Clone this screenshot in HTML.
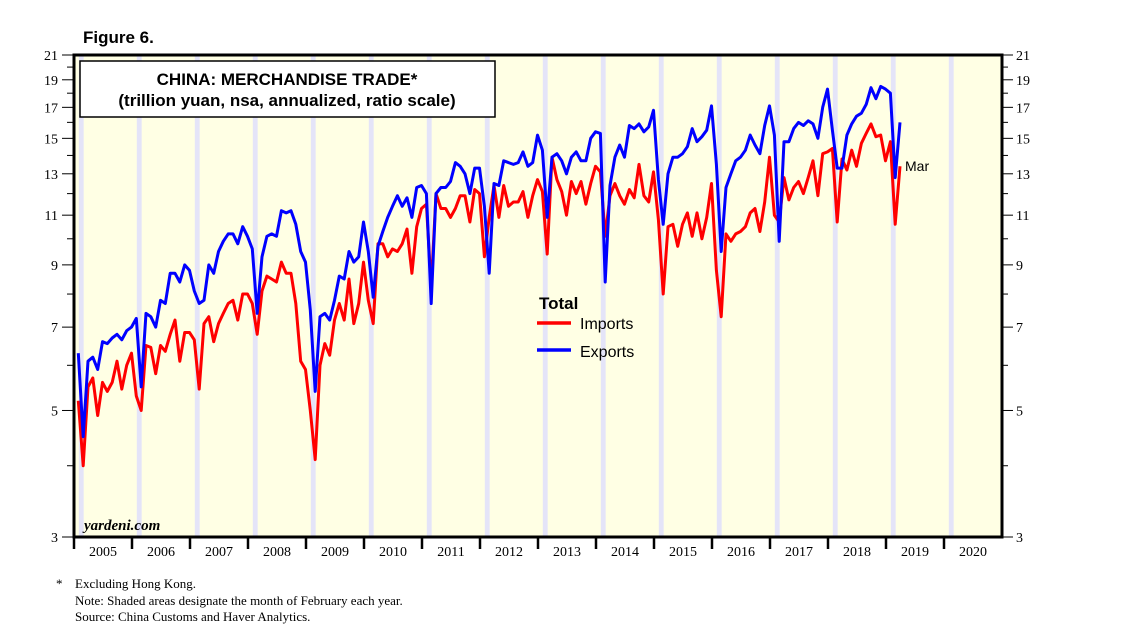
<!DOCTYPE html>
<html><head><meta charset="utf-8"><style>
html,body{margin:0;padding:0;background:#fff;}
svg{display:block;}
</style></head><body>
<svg id="chart" width="1138" height="642" xmlns="http://www.w3.org/2000/svg">
<text x="83" y="43" font-family="Liberation Sans, sans-serif" font-weight="bold" font-size="17">Figure 6.</text>
<g id="plot"></g>
<g id="foot" font-family="Liberation Serif, serif" font-size="13" fill="#000">
<text x="56" y="588">*</text>
<text x="75" y="588">Excluding Hong Kong.</text>
<text x="75" y="605">Note: Shaded areas designate the month of February each year.</text>
<text x="75" y="621">Source: China Customs and Haver Analytics.</text>
</g>
</svg>
<script>
const startYear = 2005;
const yearLabels = ["2005","2006","2007","2008","2009","2010","2011","2012","2013","2014","2015","2016","2017","2018","2019","2020"];
const yTickLabels = [3,5,7,9,11,13,15,17,19,21];
const yMinorTicks = [4,6,8,10,12,14,16,18,20];
const exportsData = [
6.3,4.5,6.1,6.2,5.9,6.6,6.55,6.7,6.8,6.65,6.9,7.0,
7.25,5.5,7.4,7.3,7.0,7.8,7.7,8.7,8.7,8.4,9.0,8.8,
8.1,7.7,7.8,9.0,8.7,9.5,9.9,10.2,10.2,9.8,10.5,10.1,
9.6,7.4,9.3,10.1,10.2,10.1,11.2,11.1,11.2,10.6,9.5,9.1,
7.5,5.4,7.3,7.4,7.2,7.8,8.6,8.5,9.5,9.1,9.3,10.7,
9.5,7.9,9.7,10.3,10.9,11.4,11.9,11.4,11.8,10.9,12.3,12.4,
12.0,7.7,12.0,12.3,12.3,12.6,13.6,13.4,13.0,12.0,13.3,13.3,
11.4,8.7,12.5,12.4,13.7,13.6,13.5,13.6,14.2,13.4,13.6,15.2,
14.3,10.9,13.9,14.1,13.7,13.0,13.9,14.2,13.7,13.7,15.0,15.4,
15.3,8.4,12.4,13.9,14.6,13.9,15.8,15.6,15.9,15.4,15.7,16.8,
12.7,10.6,13.0,13.9,13.9,14.1,14.5,15.6,14.8,15.1,15.5,17.1,
13.5,9.5,12.3,13.0,13.7,13.9,14.3,15.2,14.6,14.1,15.8,17.1,
15.2,9.9,14.8,14.8,15.6,16.0,15.8,16.1,15.9,15.0,17.0,18.3,
15.5,13.3,13.3,15.2,15.9,16.4,16.6,17.2,18.4,17.6,18.5,18.3,
18.0,12.8,16.0];
const importsData = [
5.2,4.0,5.5,5.7,4.9,5.6,5.4,5.6,6.1,5.45,6.0,6.3,
5.3,5.0,6.5,6.45,5.8,6.5,6.35,6.8,7.2,6.1,6.85,6.85,
6.65,5.45,7.1,7.3,6.6,7.1,7.4,7.7,7.8,7.2,8.0,8.0,
7.7,6.8,8.1,8.6,8.5,8.4,9.1,8.7,8.7,7.7,6.1,5.9,
5.0,4.1,6.0,6.55,6.25,7.2,7.7,7.2,8.5,7.1,7.7,9.1,
7.8,7.1,9.8,9.8,9.3,9.6,9.5,9.8,10.4,8.7,10.5,11.3,
11.5,8.2,12.0,11.3,11.3,10.9,11.3,11.9,11.9,10.7,12.2,12.0,
9.3,10.9,12.4,10.9,12.4,11.4,11.6,11.6,12.1,10.9,11.9,12.7,
12.1,9.4,13.9,12.7,12.1,11.0,12.6,12.0,12.6,11.5,12.5,13.4,
13.1,10.1,11.9,12.5,11.9,11.5,12.2,11.8,13.5,11.9,11.6,13.1,
10.8,8.0,10.5,10.6,9.7,10.6,11.1,10.1,11.1,10.0,10.9,12.5,
8.8,7.3,10.2,9.9,10.2,10.3,10.5,11.1,11.3,10.3,11.6,13.9,
11.0,10.7,12.8,11.7,12.3,12.6,12.0,12.8,13.7,11.9,14.1,14.2,
14.4,10.7,13.8,13.2,14.3,13.4,14.7,15.3,15.9,15.1,15.2,13.7,
14.8,10.6,13.4];

const NS="http://www.w3.org/2000/svg";
const L=74, R=1002, T=55, B=537, yMin=3, yMax=21;
const yearW=(R-L)/yearLabels.length, monthW=yearW/12;
function xMonth(i){return L+(i+0.9)*monthW;}
function yVal(v){return T+(Math.log(yMax/v)/Math.log(yMax/yMin))*(B-T);}
const g=document.getElementById('plot');
function el(tag,attrs,parent){const e=document.createElementNS(NS,tag);for(const k in attrs)e.setAttribute(k,attrs[k]);(parent||g).appendChild(e);return e;}

const bg=el('rect',{x:L,y:T,width:R-L,height:B-T,fill:'#FFFFE4'});


yearLabels.forEach((lab,i)=>{
  const b=el('rect',{x:L+i*yearW+monthW,y:T,width:monthW,height:B-T,fill:'#E4E4F8'});
  
  
});
const tb=el('rect',{x:80,y:61,width:415,height:56,fill:'#fff',stroke:'#000','stroke-width':1.5});


const t1=el('text',{x:287,y:85,'text-anchor':'middle','font-family':'Liberation Sans, sans-serif','font-weight':'bold','font-size':'17'});
t1.textContent='CHINA: MERCHANDISE TRADE*';


const t2=el('text',{x:287,y:106,'text-anchor':'middle','font-family':'Liberation Sans, sans-serif','font-weight':'bold','font-size':'17'});
t2.textContent='(trillion yuan, nsa, annualized, ratio scale)';



yTickLabels.forEach(v=>{
  const y=yVal(v);
  const a=el('line',{x1:62,x2:L,y1:y,y2:y,stroke:'#000','stroke-width':1});
  
  
  const b=el('line',{x1:R,x2:1013,y1:y,y2:y,stroke:'#000','stroke-width':1});
  
  
  const tl=el('text',{x:58,y:y+5,'text-anchor':'end','font-family':'Liberation Serif, serif','font-size':'14'});
  tl.textContent=v;
  
  
  const tr=el('text',{x:1016,y:y+5,'font-family':'Liberation Serif, serif','font-size':'14'});
  tr.textContent=v;
  
  
});
yMinorTicks.forEach(v=>{
  const y=yVal(v);
  const a=el('line',{x1:67,x2:L,y1:y,y2:y,stroke:'#000','stroke-width':1});
  
  
  const b=el('line',{x1:R,x2:1008,y1:y,y2:y,stroke:'#000','stroke-width':1});
  
  
});
yearLabels.forEach((lab,i)=>{
  const x=L+i*yearW;
  const tk=el('line',{x1:x,x2:x,y1:B,y2:B+12,stroke:'#000','stroke-width':2.5});
  
  
  const tx=el('text',{x:x+yearW/2,y:556,'text-anchor':'middle','font-family':'Liberation Serif, serif','font-size':'14'});
  tx.textContent=lab;
  
  
});
function series(data,color,name){
  const pts=data.map((v,i)=>xMonth(i).toFixed(1)+','+yVal(v).toFixed(1)).join(' ');
  const p=el('polyline',{points:pts,fill:'none',stroke:color,'stroke-width':3,'stroke-linejoin':'round'});
  
  
}
series(importsData,'#FF0000','imports-line');
series(exportsData,'#0000FF','exports-line');
const fr=el('rect',{x:L,y:T,width:R-L,height:B-T,fill:'none',stroke:'#000','stroke-width':3});


const lt=el('text',{x:539,y:309,'font-family':'Liberation Sans, sans-serif','font-weight':'bold','font-size':'17'});
lt.textContent='Total';


const l1=el('line',{x1:537,x2:571,y1:323,y2:323,stroke:'#FF0000','stroke-width':3.5});


const l1t=el('text',{x:580,y:329,'font-family':'Liberation Sans, sans-serif','font-size':'16'});
l1t.textContent='Imports';


const l2=el('line',{x1:537,x2:571,y1:350,y2:350,stroke:'#0000FF','stroke-width':3.5});


const l2t=el('text',{x:580,y:357,'font-family':'Liberation Sans, sans-serif','font-size':'16'});
l2t.textContent='Exports';


const mar=el('text',{x:905,y:171,'font-family':'Liberation Sans, sans-serif','font-size':'14'});
mar.textContent='Mar';


const yd=el('text',{x:84,y:530,'font-family':'Liberation Serif, serif','font-style':'italic','font-weight':'bold','font-size':'15'});
yd.textContent='yardeni.com';


</script>
</body></html>
